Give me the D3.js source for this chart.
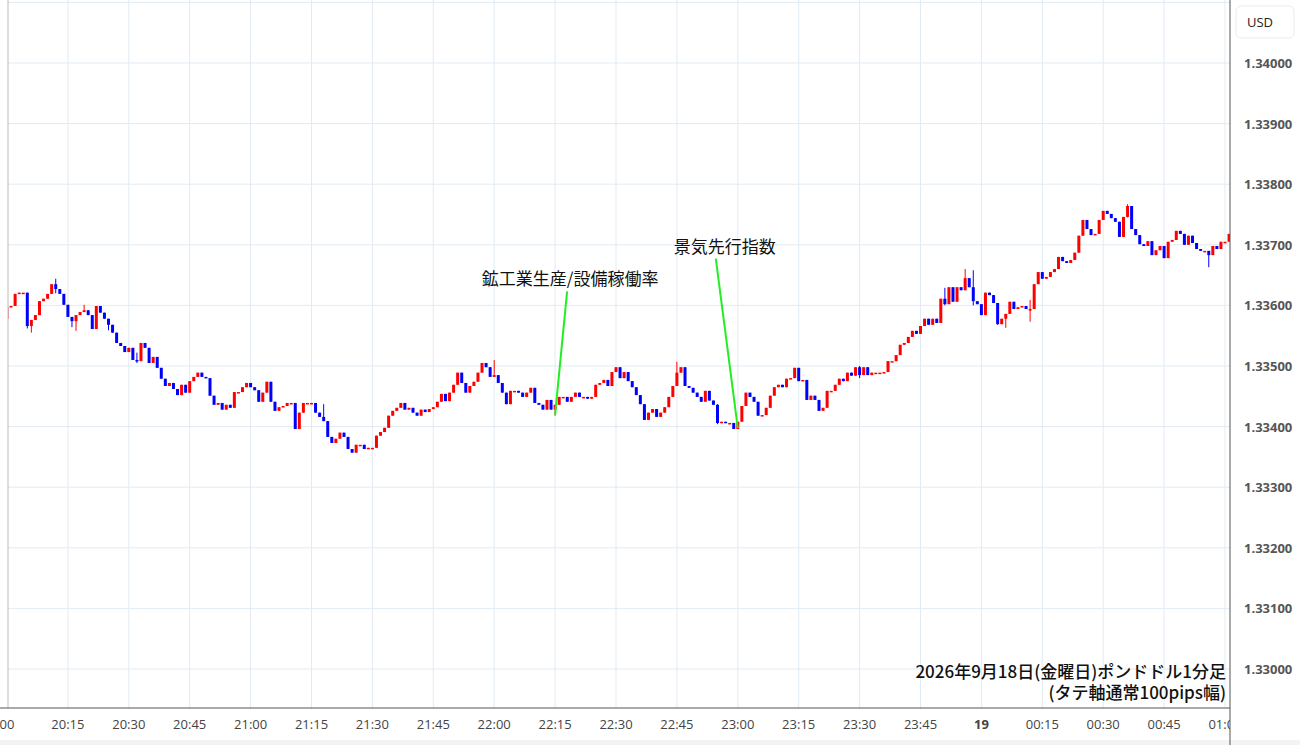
<!DOCTYPE html>
<html><head><meta charset="utf-8">
<script src="https://cdn.jsdelivr.net/npm/d3@7"></script>
<style>body{margin:0;background:#fff;font-family:"Noto Sans CJK JP","Noto Sans",sans-serif}</style>
</head><body><div id="chart"></div>
<script>
// GBP/USD 1-minute closes, in points (1e-5) above 1.33000, from 20:00
const closes = [597,599,619,621,621,566,576,584,607,611,619,635,627,619,601,581,574,584,589,592,
584,561,599,588,578,568,555,538,533,523,530,510,508,538,530,505,515,497,479,467,
472,462,452,469,456,475,482,489,482,480,451,436,439,428,436,431,457,457,465,472,
465,460,441,456,474,441,426,432,434,439,439,396,423,439,439,439,423,416,409,383,
373,380,390,383,363,357,370,370,363,365,365,385,391,398,418,426,431,439,428,431,
423,418,428,424,429,432,441,454,442,456,469,489,472,456,467,474,489,505,498,482,
485,472,456,437,459,459,456,449,456,464,439,436,428,444,428,436,449,449,441,449,
456,449,449,446,449,469,472,477,467,490,498,480,490,475,465,452,437,411,423,429,
416,423,432,449,467,489,498,467,464,456,449,441,459,443,436,406,408,406,406,396,
408,434,456,449,441,418,419,431,451,465,469,465,479,480,497,475,477,444,451,444,
426,431,459,459,469,479,475,489,484,498,485,498,485,489,489,489,490,508,508,518,
535,538,548,558,553,566,578,568,578,571,611,602,630,606,630,625,645,630,607,602,
584,621,617,604,569,578,586,606,594,597,599,594,594,635,655,644,647,655,660,680,
673,670,675,687,715,741,726,716,718,741,756,751,744,738,713,746,764,726,716,701,
698,706,683,691,698,678,705,708,723,718,700,715,703,693,690,690,683,698,693,705,
705,718];
const firstOpen = 578;
// notable wick extremes: [minute index, high, low]
const wicks = [[5,621,562],[6,576,555],[12,644,620],[16,581,564],[17,584,558],[19,601,590],[25,578,559],
[32,522,505],[78,437,409],[120,510,484],[135,436,418],[165,507,470],[175,437,404],[210,500,480],
[231,629,600],[236,660,625],[238,658,600],[244,604,568],[246,586,563],[252,609,573],[276,767,745],[296,690,663]];
const annotations = [
  {i:135, text:"鉱工業生産/設備稼働率", top:623, dx:12, tdx:3},
  {i:180, text:"景気先行指数", top:677, dx:-22, tdx:9}
];
const timeLabels = ["00","20:15","20:30","20:45","21:00","21:15","21:30","21:45","22:00","22:15","22:30","22:45",
"23:00","23:15","23:30","23:45","19","00:15","00:30","00:45","01:00"];
const priceTicks = [0,100,200,300,400,500,600,700,800,900,1000];

const W = 1300, H = 745, left = 8, right = 1230, bottom = 708;
const x = d3.scaleLinear().domain([0, 300]).range([7, 1225]);
const y = d3.scaleLinear().domain([0, 1000]).range([669, 63]);

const candles = closes.map((c, i) => {
  const o = i === 0 ? firstOpen : closes[i-1];
  return {i, o, c, h: Math.max(o,c), l: Math.min(o,c)};
});
wicks.forEach(([i,h,l]) => { candles[i].h = Math.max(candles[i].h,h); candles[i].l = Math.min(candles[i].l,l); });

const svg = d3.select("#chart").append("svg").attr("width", W).attr("height", H);
svg.append("rect").attr("y", 740).attr("width", W).attr("height", 5).attr("fill", "#f3f3f3");

svg.append("clipPath").attr("id","plot").append("rect").attr("x",left).attr("y",0).attr("width",right-left).attr("height",bottom);
const plot = svg.append("g").attr("clip-path","url(#plot)");

// grid
plot.selectAll(".vg").data(d3.range(0, 316, 15)).join("line")
  .attr("x1", d=>x(d)).attr("x2", d=>x(d)).attr("y1", 0).attr("y2", bottom)
  .attr("stroke", "#e1ebf4").attr("stroke-width", 1);
plot.selectAll(".hg").data(d3.range(-100, 1200, 100)).join("line")
  .attr("x1", left).attr("x2", right).attr("y1", d=>y(d)).attr("y2", d=>y(d))
  .attr("stroke", "#e1ebf4").attr("stroke-width", 1);

// candles
const cg = plot.selectAll(".c").data(candles).join("g")
  .attr("fill", d => d.c >= d.o ? "#ff0000" : "#0000ff")
  .attr("stroke", d => d.c >= d.o ? "#ff0000" : "#0000ff");
cg.append("line").attr("x1", d=>x(d.i)).attr("x2", d=>x(d.i))
  .attr("y1", d=>y(d.h)).attr("y2", d=>y(d.l)).attr("stroke-width", 1);
cg.append("rect").attr("stroke","none")
  .attr("x", d=>x(d.i)-1.5).attr("width", 3)
  .attr("y", d=>y(Math.max(d.o,d.c)))
  .attr("height", d=>Math.max(1.5, Math.abs(y(d.o)-y(d.c))));

// annotations
annotations.forEach(a => {
  const bx = x(a.i), by = y(candles[a.i].l);
  plot.append("line").attr("x1", bx).attr("y1", by - 1).attr("x2", bx + a.dx).attr("y2", y(a.top))
    .attr("stroke", "#22ee22").attr("stroke-width", 2);
  plot.append("text").attr("x", bx + a.dx + a.tdx).attr("y", y(a.top) - 6)
    .attr("text-anchor","middle").attr("font-size", 17).attr("fill","#111").text(a.text);
});

// caption
const cap = svg.append("g").attr("font-size", 17).attr("font-weight", 500).attr("fill","#111").attr("text-anchor","end");
cap.append("text").attr("x", 1226).attr("y", 678).text("2026年9月18日(金曜日)ポンドドル1分足");
cap.append("text").attr("x", 1226).attr("y", 699).text("(タテ軸通常100pips幅)");

// axes frame
svg.append("line").attr("x1", left).attr("x2", left).attr("y1", 0).attr("y2", bottom).attr("stroke","#bbb");
svg.append("line").attr("x1", 0).attr("x2", right).attr("y1", bottom).attr("y2", bottom).attr("stroke","#555");
svg.append("line").attr("x1", right).attr("x2", right).attr("y1", 0).attr("y2", H).attr("stroke","#555");

// time labels
svg.append("clipPath").attr("id","tclip").append("rect").attr("x",0).attr("y",bottom).attr("width",right).attr("height",H-bottom);
const tl = svg.append("g").attr("clip-path","url(#tclip)");
tl.selectAll("text").data(timeLabels).join("text")
  .attr("x", (d,k)=>x(k*15)).attr("y", 729).attr("text-anchor","middle")
  .attr("font-family","'Open Sans',sans-serif").attr("font-size", 13)
  .attr("font-weight", d=>d==="19"?"bold":"normal").attr("fill","#444").text(d=>d);

// price labels
svg.selectAll(".pl").data(priceTicks).join("text")
  .attr("x", 1244).attr("y", d=>y(d)+5)
  .attr("font-family","'Open Sans',sans-serif").attr("font-size", 13).attr("font-weight","bold")
  .attr("fill","#555").text(d => d3.format(".5f")(1.33 + d/1e5));

svg.append("rect").attr("x", 1236).attr("y", 6).attr("width", 58).attr("height", 32).attr("rx", 5)
  .attr("fill","#fff").attr("stroke","#ececec");
svg.append("text").attr("x", 1247).attr("y", 27).attr("font-family","'Open Sans',sans-serif")
  .attr("font-size", 13).attr("fill","#222").text("USD");
</script></body></html>
